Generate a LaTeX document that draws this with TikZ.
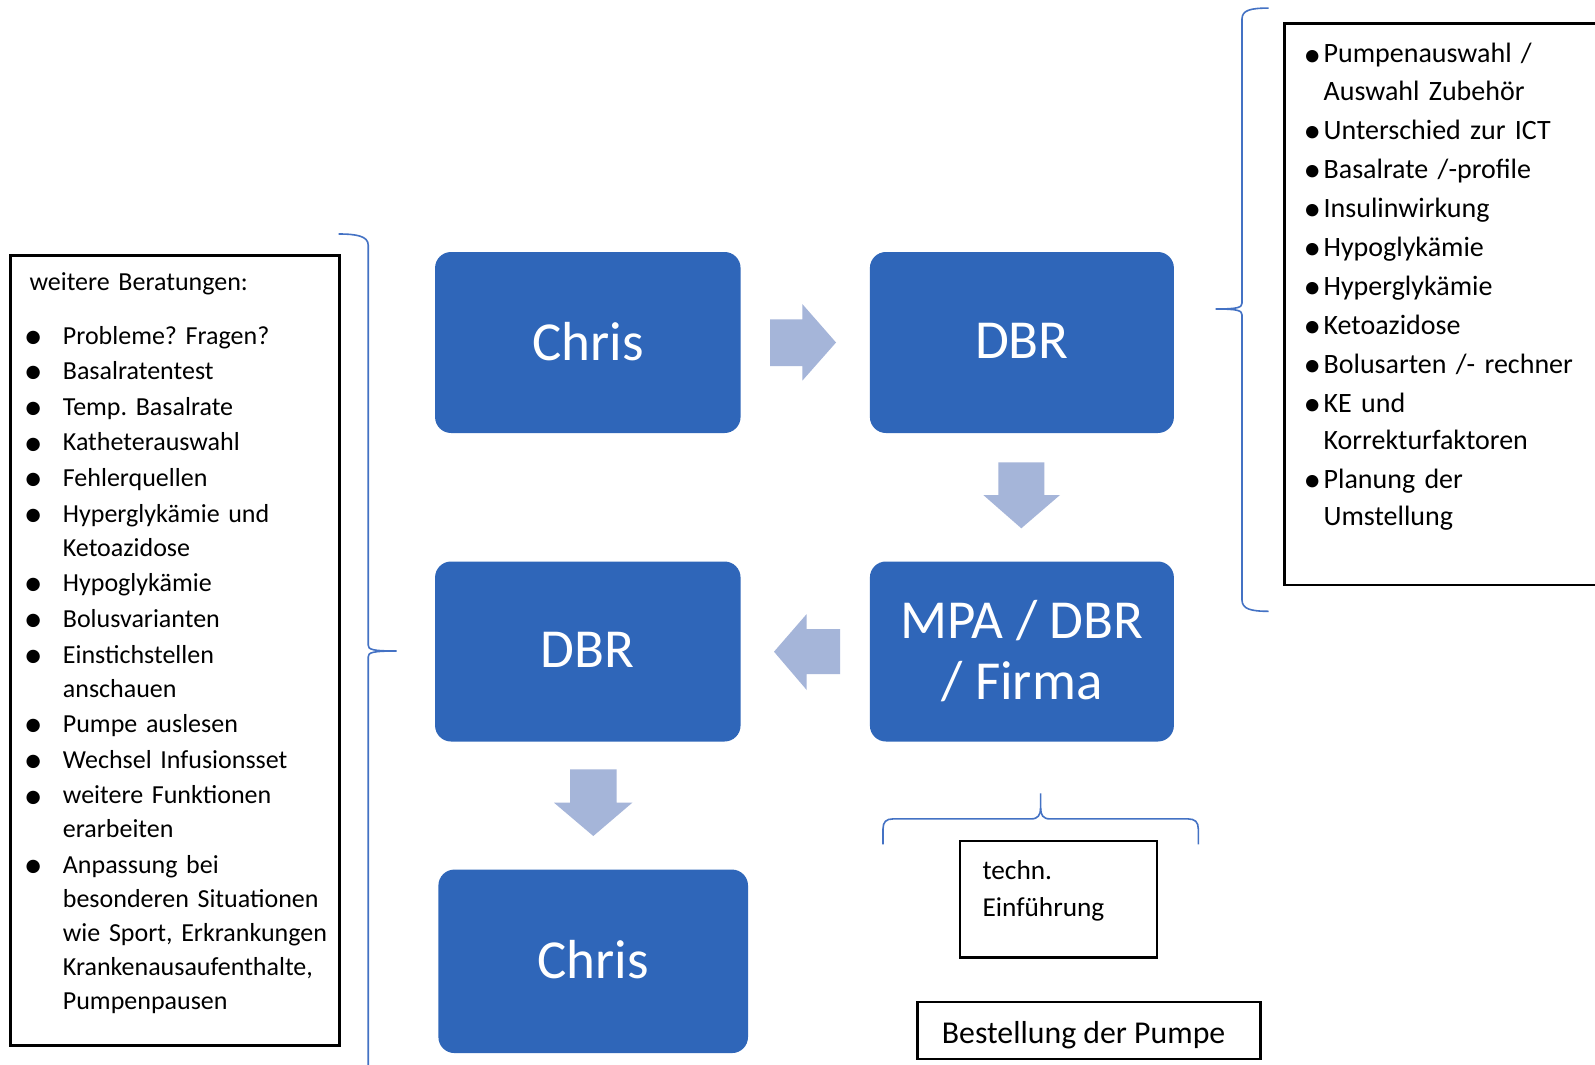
\documentclass[tikz,border=0pt]{standalone}
\usepackage{fontspec}
\setmainfont{Carlito}
\usepackage{graphicx}
\frenchspacing

\definecolor{boxblue}{RGB}{47,102,185}
\definecolor{arrowblue}{RGB}{165,181,217}
\definecolor{braceblue}{RGB}{68,114,196}

% bullets and hanging list items (each item closes its own paragraph)
\newcommand\lbul{\raisebox{-0.16em}{\scalebox{1.45}{\textbullet}}}
\newcommand\rbul{\raisebox{-0.12em}{\scalebox{1.25}{\textbullet}}}
\newcommand\litem[1]{\hangindent=33.4pt\hangafter=1\noindent\makebox[33.4pt][l]{\hspace*{-5.7pt}\lbul}#1\par\vspace{1.75pt}}
\newcommand\ritem[1]{\hangindent=17.4pt\hangafter=1\noindent\makebox[17.4pt][l]{\hspace*{-2.5pt}\rbul}#1\par\vspace{1.8pt}}
\newcommand\up[1]{\raisebox{3pt}{#1}}

\tikzset{
  bluebox/.style={fill=boxblue, draw=none, rounded corners=16pt, text=white,
    font=\fontsize{55}{61}\selectfont, align=center, inner sep=0pt},
  blockarrow/.style={fill=arrowblue, draw=none},
  framebox/.style={draw=black, line width=2.6pt, fill=white, inner sep=0pt},
  bracket/.style={draw=braceblue, line width=1.6pt},
  leftlist/.style={text width=310pt, inner sep=0pt, align=left,
    font=\fontsize{26}{33.9}\selectfont},
  rightlist/.style={text width=290pt, inner sep=0pt, align=left,
    font=\fontsize{28}{37.2}\selectfont},
}

\begin{document}
\begin{tikzpicture}[x=1pt, y=-1pt]
\clip (0,0) rectangle (1595,1065);
\fill[white] (0,0) rectangle (1595,1065);

% process boxes
\node[bluebox, minimum width=305.5pt, minimum height=181pt] (chrisA) at (587.8,342.5) {\up{Chris}};
\node[bluebox, minimum width=304pt, minimum height=181pt] (dbrA) at (1021.9,342.5) {\up{DBR}};
\node[bluebox, minimum width=304pt, minimum height=180pt] (mpa) at (1021.9,651.5) {MPA / DBR\\/ Firma};
\node[bluebox, minimum width=305.5pt, minimum height=180pt] (dbrB) at (587.8,651.5) {\up{DBR}};
\node[bluebox, minimum width=309.6pt, minimum height=183.5pt] (chrisB) at (593.2,961.3) {\up{Chris}};

% block arrows between the boxes
\fill[blockarrow] (770,319.3) -- (802.3,319.3) -- (802.3,304) -- (836,342.5)
  -- (802.3,380.7) -- (802.3,366) -- (770,366) -- cycle;
\fill[blockarrow] (998.3,462.3) -- (1044.3,462.3) -- (1044.3,495) -- (1060,495)
  -- (1021.3,528.3) -- (983.3,495) -- (998.3,495) -- cycle;
\fill[blockarrow] (840,629) -- (806.7,629) -- (806.7,614) -- (774,651.7)
  -- (806.7,690) -- (806.7,674) -- (840,674) -- cycle;
\fill[blockarrow] (570,769.3) -- (616.7,769.3) -- (616.7,802.7) -- (632.3,802.7)
  -- (593.3,836) -- (554,802.7) -- (570,802.7) -- cycle;

% left list box
\node[framebox, minimum width=329.5pt, minimum height=790.4pt] (leftframe) at (174.95,650.5) {};
\node[leftlist, anchor=base west] (lefttext) at (29.3,290) {%
weitere Beratungen:\par\vspace{20.1pt}%
\litem{Probleme? Fragen?}%
\litem{Basalratentest}%
\litem{Temp. Basalrate}%
\litem{Katheterauswahl}%
\litem{Fehlerquellen}%
\litem{Hyperglykämie und\newline Ketoazidose}%
\litem{Hypoglykämie}%
\litem{Bolusvarianten}%
\litem{Einstichstellen\newline anschauen}%
\litem{Pumpe auslesen}%
\litem{Wechsel Infusionsset}%
\litem{weitere Funktionen\newline erarbeiten}%
\litem{Anpassung bei\newline besonderen Situationen\newline wie Sport, Erkrankungen\newline Krankenausaufenthalte,\newline Pumpenpausen}%
};

% right list box
\node[framebox, minimum width=335.3pt, minimum height=561.6pt] (rightframe) at (1452.35,304.2) {};
\node[rightlist, anchor=base west] (righttext) at (1306,63) {%
\ritem{Pumpenauswahl /\newline Auswahl Zubehör}%
\ritem{Unterschied zur ICT}%
\ritem{Basalrate /-profile}%
\ritem{Insulinwirkung}%
\ritem{Hypoglykämie}%
\ritem{Hyperglykämie}%
\ritem{Ketoazidose}%
\ritem{Bolusarten /- rechner}%
\ritem{KE und\newline Korrekturfaktoren}%
\ritem{Planung der\newline Umstellung}%
};

% small boxes under the process
\node[framebox, minimum width=197pt, minimum height=116.5pt] (techframe) at (1058.5,899.25) {};
\node[anchor=base west, inner sep=0pt, text width=170pt, align=left, font=\fontsize{27.3}{37.7}\selectfont] (techtext) at (982.3,879) {techn.\par Einführung\par};
\node[framebox, minimum width=342.8pt, minimum height=57pt] (orderframe) at (1088.9,1030.5) {};
\node[anchor=base west, inner sep=0pt, font=\fontsize{31.8}{37}\selectfont] (ordertext) at (941.7,1043.3) {Bestellung der Pumpe};

% curly brackets
\draw[bracket] (338.7,234) .. controls (356,234) and (368.2,236) .. (368.2,245)
  -- (368.2,645) .. controls (368.2,649.5) and (372,651) .. (396.7,651)
  .. controls (372,651) and (368.2,652.5) .. (368.2,657) -- (368.2,1075);
\draw[bracket] (1268.5,8.1) .. controls (1251,8.1) and (1242,10) .. (1242,19)
  -- (1242,303) .. controls (1242,307.5) and (1238,309) .. (1215.5,309)
  .. controls (1238,309) and (1242,310.5) .. (1242,315)
  -- (1242,600) .. controls (1242,609) and (1251,611.3) .. (1268.5,611.3);
\draw[bracket] (883,844.3) -- (883,829) .. controls (883,822) and (886,818.9) .. (893,818.9)
  -- (1031,818.9) .. controls (1038,818.9) and (1040.6,815) .. (1040.6,808) -- (1040.6,793.4);
\draw[bracket] (1040.6,808) .. controls (1040.6,815) and (1043,818.9) .. (1050,818.9)
  -- (1188,818.9) .. controls (1195,818.9) and (1198.3,822) .. (1198.3,829) -- (1198.3,844.3);
\end{tikzpicture}
\end{document}
